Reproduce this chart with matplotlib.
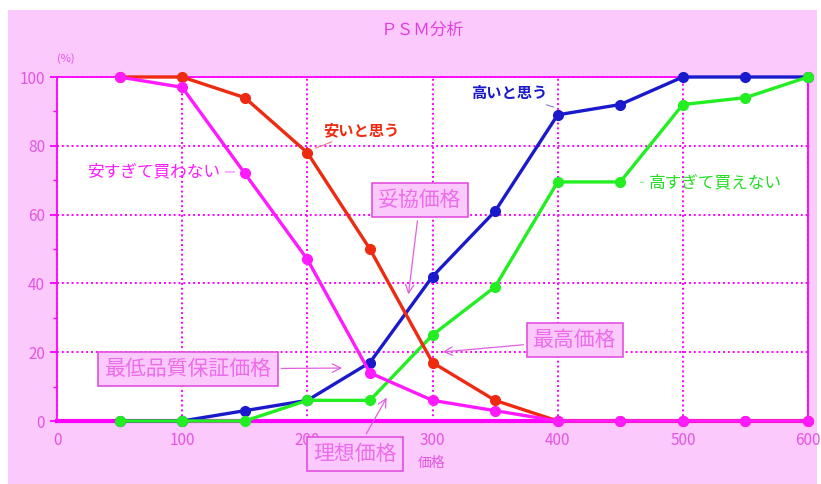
import matplotlib
matplotlib.use("Agg")
import matplotlib.pyplot as plt
from matplotlib.patches import Rectangle
from matplotlib.ticker import MultipleLocator

plt.rcParams['font.family'] = ['Noto Sans CJK JP', 'DejaVu Sans']

prices = [50, 100, 150, 200, 250, 300, 350, 400, 450, 500, 550, 600]
yasui = [100, 100, 94, 78, 50, 17, 6, 0, 0, 0, 0, 0]              # 安いと思う
yasusugi = [100, 97, 72, 47, 14, 6, 3, 0, 0, 0, 0, 0]            # 安すぎて買わない
takai = [0, 0, 3, 6, 17, 42, 61, 89, 92, 100, 100, 100]           # 高いと思う
takasugi = [0, 0, 0, 6, 6, 25, 39, 69.5, 69.5, 92, 94, 100]        # 高すぎて買えない
xticks = [0, 100, 200, 300, 400, 500, 600]
yticks = [0, 20, 40, 60, 80, 100]

PINK = '#FBC9FB'
MAG = '#FF00FF'
LBL = '#E455E4'
BOXTXT = '#EC6CEC'

W, H = 821, 484
fig = plt.figure(figsize=(W / 100, H / 100), dpi=100)
fig.patch.set_facecolor('white')
bg = Rectangle((8 / W, 0), (W - 12) / W, (H - 10) / H,
               transform=fig.transFigure, facecolor=PINK,
               edgecolor='none', zorder=-10)
fig.add_artist(bg)

ax = fig.add_axes([57 / W, 1 - 421 / H, (808 - 57) / W, (421 - 77) / H])
ax.set_zorder(1)
ax.set_facecolor('white')
ax.set_xlim(0, 600)
ax.set_ylim(0, 100)
ax.set_xticks(xticks)
ax.set_yticks(yticks)
ax.yaxis.set_minor_locator(MultipleLocator(10))
ax.grid(True, color=MAG, linestyle=(0, (1, 1.5)), linewidth=1.4)
ax.set_axisbelow(True)
for s in ['left', 'right', 'top']:
    ax.spines[s].set_color(MAG)
    ax.spines[s].set_linewidth(1.3)
ax.spines['bottom'].set_color(MAG)
ax.spines['bottom'].set_linewidth(3)
ax.tick_params(axis='y', colors=MAG, labelcolor=LBL, labelsize=11, length=5, width=1.3)
ax.tick_params(axis='y', which='minor', colors=MAG, length=3, width=1.0)
ax.tick_params(axis='x', colors=MAG, labelcolor=LBL, labelsize=11, length=0, pad=8)

kw = dict(linewidth=2.4, marker='o', markersize=7, clip_on=False)
ax.plot(prices, takai, color='#1A1ACC', zorder=3, **kw)
ax.plot(prices, takasugi, color='#22EE22', zorder=4, **kw)
ax.plot(prices, yasui, color='#EE2A10', zorder=5, **kw)
ax.plot(prices, yasusugi, color='#FF1AFF', zorder=6, **kw)

# series labels
ax.annotate('高いと思う', xy=(399, 91), xytext=(392, 95.3), color='#1A1ACC',
            fontsize=11, ha='right', va='center', fontweight='bold',
            arrowprops=dict(arrowstyle='-', color='#8080D0', lw=0.8))
ax.annotate('安いと思う', xy=(204.5, 79), xytext=(213, 84.6), color='#EE2A10',
            fontsize=11, ha='left', va='center', fontweight='bold',
            arrowprops=dict(arrowstyle='-', color='#F08080', lw=0.8))
ax.annotate('安すぎて買わない', xy=(144, 72.4), xytext=(130, 72.4), color='#FF1AFF',
            fontsize=12, ha='right', va='center',
            arrowprops=dict(arrowstyle='-', color='#FF70FF', lw=0.8))
ax.annotate('高すぎて買えない', xy=(464, 69.4), xytext=(473, 69.2), color='#22DD22',
            fontsize=12, ha='left', va='center',
            arrowprops=dict(arrowstyle='-', color='#80E080', lw=0.8))

box = dict(boxstyle='square,pad=0.3', facecolor=PINK, edgecolor='#E050E0', lw=1.2)
arr = dict(arrowstyle='->', color='#E060E0', lw=0.9)
ax.annotate('妥協価格', xy=(280.5, 36), xytext=(290, 64.2), color=BOXTXT,
            fontsize=15, ha='center', va='center', bbox=box, arrowprops=arr,
            annotation_clip=False, zorder=8)
ax.annotate('最低品質保証価格', xy=(230, 15.4), xytext=(104.7, 15.1), color=BOXTXT,
            fontsize=15, ha='center', va='center', bbox=box, arrowprops=arr,
            annotation_clip=False, zorder=8)
ax.annotate('理想価格', xy=(264.5, 7.5), xytext=(238, -9.6), color=BOXTXT,
            fontsize=15, ha='center', va='center', bbox=box, arrowprops=arr,
            annotation_clip=False, zorder=8)
ax.annotate('最高価格', xy=(306, 20), xytext=(413.8, 23.5), color=BOXTXT,
            fontsize=15, ha='center', va='center', bbox=box, arrowprops=arr,
            annotation_clip=False, zorder=8)

fig.text(422 / W, 1 - 30 / H, 'ＰＳＭ分析', color='#E040E0', fontsize=12,
         ha='center', va='center')
fig.text(66 / W, 1 - 59 / H, '(%)', color=LBL, fontsize=8, ha='center', va='center')
fig.text(432 / W, 1 - 463 / H, '価格', color=LBL, fontsize=10, ha='center', va='center')

fig.savefig('out.png', dpi=100, facecolor=fig.get_facecolor())
